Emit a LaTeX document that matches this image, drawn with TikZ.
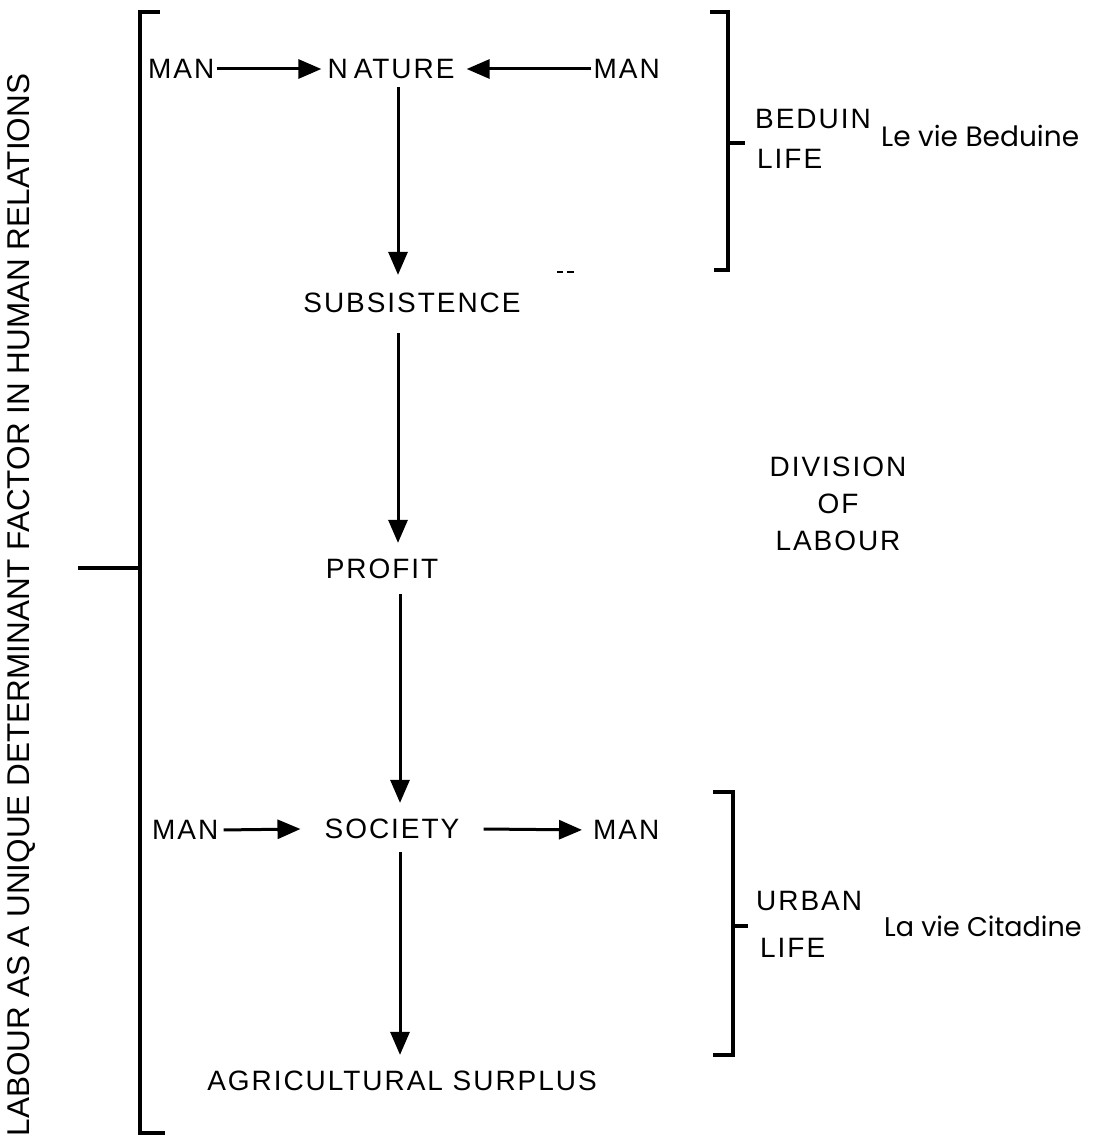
\documentclass[tikz,border=0pt]{standalone}
\usepackage{fontspec}
\setmainfont{Liberation Sans}
\newfontfamily\roundfont{Poppins}
\usetikzlibrary{arrows.meta,calc}
\tikzset{
  lbl/.style={font=\fontsize{28}{30}\selectfont\addfontfeature{LetterSpace=7}, inner sep=2pt},
  fr/.style={font=\roundfont\fontsize{28}{30}\selectfont, inner sep=0pt, anchor=west},
  arr/.style={line width=3pt, -{Triangle[length=23pt,width=19pt]}},
  brk/.style={line width=3.2pt},
}
\begin{document}
\begin{tikzpicture}[x=1pt,y=-1pt]
\useasboundingbox (0,0) rectangle (1093,1148);
% main column
\coordinate (col) at (398,0);
\node[lbl] (nature) at (391,69) {N\kern6pt ATURE};
\node[lbl, anchor=west] (manA) at (146,69) {MAN};
\node[lbl, anchor=east] (manB) at (662,69) {MAN};
\node[lbl] (subs) at (412,303) {SUBSISTENCE};
\node[lbl] (profit) at (382,569) {PROFIT};
\node[lbl] (society) at (392,829) {SOCIETY};
\node[lbl, anchor=west] (manC) at (150,830) {MAN};
\node[lbl, anchor=west] (manD) at (591,830) {MAN};
\node[lbl] (agri) at (402,1081) {AGRICULTURAL SURPLUS};
% arrows
\draw[arr, shorten >=4pt] (manA.east) -- (nature.west);
\draw[arr, shorten >=10pt] (manB.west) -- (nature.east);
\draw[arr] ([yshift=-6pt]col |- nature.south) -- ([yshift=16pt]col |- subs.north);
\draw[arr] ([yshift=-18pt]col |- subs.south) -- ([yshift=14pt]col |- profit.north);
\coordinate (col2) at (400,0);
\draw[arr] ([yshift=-13pt]col2 |- profit.south) -- ([yshift=14pt]col2 |- society.north);
\draw[arr] ([yshift=-11pt]col2 |- society.south) -- ([yshift=14pt]col2 |- agri.north);
\draw[arr, shorten <=3pt] (manC.east) -- ([xshift=-22pt]society.west);
\draw[arr, shorten >=9pt] ([xshift=22pt]society.east) -- (manD.west);
% stray dash
\draw[line width=1.5pt] (557,272) -- (563,272) (567,272) -- (574,272);
% left bracket
\draw[brk] (160,12) -- (140,12) -- (140,1133) -- (165,1133);
\coordinate (lmid) at (140,568);
\coordinate (lstub) at (78,568);
\draw[brk] (lstub) -- (lmid);
\node[rotate=90, inner sep=0pt] (side) at (21,605)
  {\resizebox{1062pt}{22pt}{LABOUR AS A UNIQUE DETERMINANT FACTOR IN HUMAN RELATIONS}};
% beduin bracket
\draw[brk] (710,12) -- (728,12) -- (728,270) -- (714,270);
\coordinate (bmid) at (728,143);
\coordinate (btick) at (745,143);
\draw[brk] (bmid) -- (btick);
\node[lbl, anchor=west] (beduin) at (753,119) {BEDUIN};
\node[lbl, anchor=west] (blife) at (755,159) {LIFE};
\node[fr] (lebed) at (881,136) {Le vie Beduine};
% division of labour
\node[lbl, align=center, font=\fontsize{28}{37}\selectfont\addfontfeature{LetterSpace=7}] (div) at (838,504) {DIVISION\\OF\\LABOUR};
% urban bracket
\draw[brk] (713,792) -- (733,792) -- (733,1055) -- (713,1055);
\coordinate (umid) at (733,926);
\coordinate (utick) at (748,926);
\draw[brk] (umid) -- (utick);
\node[lbl, anchor=west] (urban) at (754,901) {URBAN};
\node[lbl, anchor=west] (ulife) at (758,948) {LIFE};
\node[fr, font=\roundfont\fontsize{27}{29}\selectfont] (lacit) at (884,926) {La vie Citadine};
\end{tikzpicture}
\end{document}
